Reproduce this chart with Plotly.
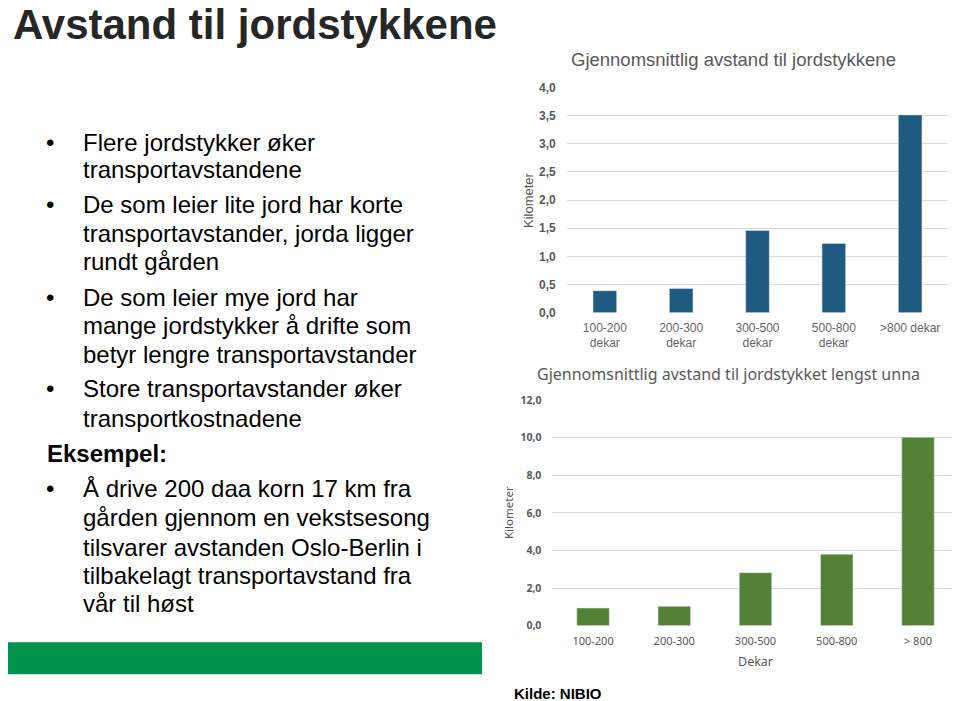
import plotly.graph_objects as go

# page offset of the plotly div (browser body margin)
OFF = 8
W, H = 960 - OFF, 701 - OFF

# ---- data ----
top_categories = ["100-200<br>dekar", "200-300<br>dekar", "300-500<br>dekar", "500-800<br>dekar", ">800 dekar"]
top_values = [0.39, 0.43, 1.46, 1.23, 3.51]
top_ticks = [0, 0.5, 1.0, 1.5, 2.0, 2.5, 3.0, 3.5, 4.0]
top_ticklabels = ["0,0", "0,5", "1,0", "1,5", "2,0", "2,5", "3,0", "3,5", "4,0"]

bottom_categories = ["100-200", "200-300", "300-500", "500-800", "> 800"]
bottom_values = [0.94, 1.03, 2.82, 3.80, 10.02]
bottom_ticks = [0, 2, 4, 6, 8, 10, 12]
bottom_ticklabels = ["0,0", "2,0", "4,0", "6,0", "8,0", "10,0", "12,0"]

bullet_lines = [
    ("•", "Flere jordstykker øker"),
    ("", "transportavstandene"),
    ("•", "De som leier lite jord har korte"),
    ("", "transportavstander, jorda ligger"),
    ("", "rundt gården"),
    ("•", "De som leier mye jord har"),
    ("", "mange jordstykker å drifte som"),
    ("", "betyr lengre transportavstander"),
    ("•", "Store transportavstander øker"),
    ("", "transportkostnadene"),
    ("H", "Eksempel:"),
    ("•", "Å drive 200 daa korn 17 km fra"),
    ("", "gården gjennom en vekstsesong"),
    ("", "tilsvarer avstanden Oslo-Berlin i"),
    ("", "tilbakelagt transportavstand fra"),
    ("", "vår til høst"),
]
line_y = [142, 170, 205, 233, 262, 297, 325, 355, 388, 418, 453, 488, 517, 547, 575, 603]


def px(x):
    return (x - OFF) / W


def py(y):
    return 1 - (y - OFF) / H


fig = go.Figure()
fig.add_trace(go.Bar(x=top_categories, y=top_values, marker_color="#1F5A80", width=0.31,
                     xaxis="x", yaxis="y", showlegend=False, hoverinfo="x+y"))
fig.add_trace(go.Bar(x=bottom_categories, y=bottom_values, marker_color="#538135", width=0.4,
                     xaxis="x2", yaxis="y2", showlegend=False, hoverinfo="x+y"))

grid = "#D9D9D9"
fig.update_layout(
    width=W, height=H,
    margin=dict(l=0, r=0, t=0, b=0, autoexpand=False),
    paper_bgcolor="white", plot_bgcolor="white",
    xaxis=dict(domain=[px(566.7), px(948.3)], anchor="y", showgrid=False, automargin=False,
               ticks="", showline=False, zeroline=False, fixedrange=True, ticklabelstandoff=6,
               tickfont=dict(family="Liberation Sans", size=12, color="#666666")),
    yaxis=dict(domain=[py(312.7), py(87.3)], anchor="x", range=[0, 4], automargin=False,
               tickvals=top_ticks, ticktext=top_ticklabels, fixedrange=True,
               showgrid=True, gridcolor=grid, gridwidth=1, zeroline=False,
               showline=False, ticks="", ticklabelstandoff=10,
               tickfont=dict(family="Liberation Sans", size=12, color="#595959", weight="bold")),
    xaxis2=dict(domain=[px(552.4), px(958.6)], anchor="y2", showgrid=False, automargin=False,
                ticks="", showline=False, zeroline=False, fixedrange=True, ticklabelstandoff=7,
                tickfont=dict(family="Noto Sans", size=11, color="#595959")),
    yaxis2=dict(domain=[py(625.7), py(400)], anchor="x2", range=[0, 12], automargin=False,
                tickvals=bottom_ticks, ticktext=bottom_ticklabels, fixedrange=True,
                showgrid=True, gridcolor=grid, gridwidth=1, zeroline=False,
                showline=False, ticks="", ticklabelstandoff=10,
                tickfont=dict(family="Noto Sans", size=10.5, color="#595959", weight="bold")),
)

ann = []
# main title
ann.append(dict(x=px(11), y=py(25), xref="paper", yref="paper", xanchor="left", yanchor="middle",
                text="<b>Avstand til jordstykkene</b>", showarrow=False,
                font=dict(family="Liberation Sans", size=42, color="#262626")))
# bullets
for (b, t), y in zip(bullet_lines, line_y):
    if b == "H":
        ann.append(dict(x=px(45), y=py(y), xref="paper", yref="paper", xanchor="left", yanchor="middle",
                        text="<b>" + t + "</b>", showarrow=False,
                        font=dict(family="Liberation Sans", size=24, color="#000000")))
        continue
    if b:
        ann.append(dict(x=px(44), y=py(y), xref="paper", yref="paper", xanchor="left", yanchor="middle",
                        text=b, showarrow=False,
                        font=dict(family="Liberation Sans", size=24, color="#000000")))
    ann.append(dict(x=px(81), y=py(y), xref="paper", yref="paper", xanchor="left", yanchor="middle",
                    text=t, showarrow=False,
                    font=dict(family="Liberation Sans", size=24, color="#000000")))

# chart titles
ann.append(dict(x=px(733), y=py(60), xref="paper", yref="paper", xanchor="center", yanchor="middle",
                text="Gjennomsnittlig avstand til jordstykkene", showarrow=False,
                font=dict(family="Liberation Sans", size=18.5, color="#595959")))
ann.append(dict(x=px(728), y=py(374), xref="paper", yref="paper", xanchor="center", yanchor="middle",
                text="Gjennomsnittlig avstand til jordstykket lengst unna", showarrow=False,
                font=dict(family="Noto Sans", size=16, color="#595959")))
# axis titles
ann.append(dict(x=px(529), y=py(200), xref="paper", yref="paper", xanchor="center", yanchor="middle",
                text="Kilometer", textangle=-90, showarrow=False,
                font=dict(family="Liberation Sans", size=13, color="#595959")))
ann.append(dict(x=px(508), y=py(513), xref="paper", yref="paper", xanchor="center", yanchor="middle",
                text="Kilometer", textangle=-90, showarrow=False,
                font=dict(family="Noto Sans", size=11.5, color="#595959")))
ann.append(dict(x=px(755), y=py(661), xref="paper", yref="paper", xanchor="center", yanchor="middle",
                text="Dekar", showarrow=False,
                font=dict(family="Noto Sans", size=12.5, color="#595959")))
# source
ann.append(dict(x=px(512), y=py(693), xref="paper", yref="paper", xanchor="left", yanchor="middle",
                text="<b>Kilde: NIBIO</b>", showarrow=False,
                font=dict(family="Liberation Sans", size=15, color="#000000")))

fig.update_layout(annotations=ann)

# green band
fig.add_shape(type="rect", xref="paper", yref="paper", x0=px(0), x1=px(482), y0=py(674.3), y1=py(642.3),
              fillcolor="#01924C", line=dict(width=0), layer="below")

fig.write_html("out.html")
